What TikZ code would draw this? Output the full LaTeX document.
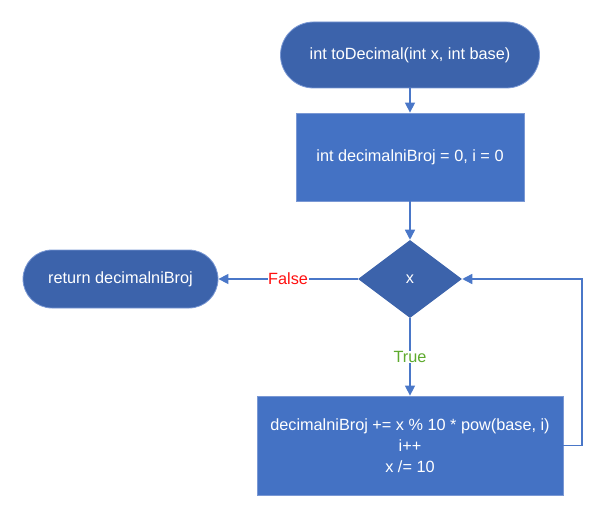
\documentclass[tikz,border=0pt]{standalone}
\usepackage{fontspec}
\setmainfont{Liberation Sans}
\usetikzlibrary{shapes.geometric,arrows.meta}
\definecolor{termfill}{HTML}{3C63AB}
\definecolor{boxfill}{HTML}{4472C4}
\definecolor{edgecol}{HTML}{7A98D4}
\definecolor{linecol}{HTML}{4A77C8}
\definecolor{truecol}{HTML}{5EAA2E}
\definecolor{falsecol}{HTML}{FF1010}
\begin{document}
\begin{tikzpicture}[x=0.75pt,y=-0.75pt,
  every node/.style={font=\fontsize{12.2}{15.75}\selectfont, text=white, align=center, inner sep=0pt},
  term/.style={draw=edgecol, fill=termfill, line width=0.6pt},
  procbox/.style={draw=edgecol, fill=boxfill, line width=0.6pt},
  decide/.style={diamond, fill=termfill, draw=none, aspect=1.333},
  conn/.style={draw=linecol, line width=1.1pt, -{Triangle[length=7.5pt,width=7.5pt]}},
  lbl/.style={fill=white, inner sep=0.5pt}
]
\useasboundingbox (0,0) rectangle (611,510);
% start terminator
\node[term, minimum width=259*0.75pt, minimum height=66*0.75pt, rounded corners=24.75pt] (start) at (410,55) {int toDecimal(int x, int base)};
% init box
\node[procbox, minimum width=228*0.75pt, minimum height=88*0.75pt] (init) at (410,157) {int decimalniBroj = 0, i = 0};
% decision diamond
\node[decide, minimum width=104*0.75pt, minimum height=78*0.75pt] (dec) at (410,279) {x};
% return terminator
\node[term, minimum width=195*0.75pt, minimum height=58*0.75pt, rounded corners=21.75pt] (ret) at (120.5,279) {return decimalniBroj};
% loop body
\node[procbox, minimum width=306*0.75pt, minimum height=99*0.75pt] (body) at (410,445.5) {decimalniBroj += x \% 10 * pow(base, i)\\i++\\x /= 10};
\coordinate (loopc) at (582,445.5);
\coordinate (loopt) at (582,279);
% connectors
\draw[conn] (start) -- (init);
\draw[conn] (init) -- (dec);
\draw[conn] (dec.south) -- node[lbl, pos=0.5, text=truecol]{True} (body.north);
\draw[conn] (dec.west) -- node[lbl, pos=0.5, text=falsecol]{False} (ret.east);
\draw[conn] (body.east) -- (loopc) -- (loopt) -- (dec.east);
\end{tikzpicture}
\end{document}
